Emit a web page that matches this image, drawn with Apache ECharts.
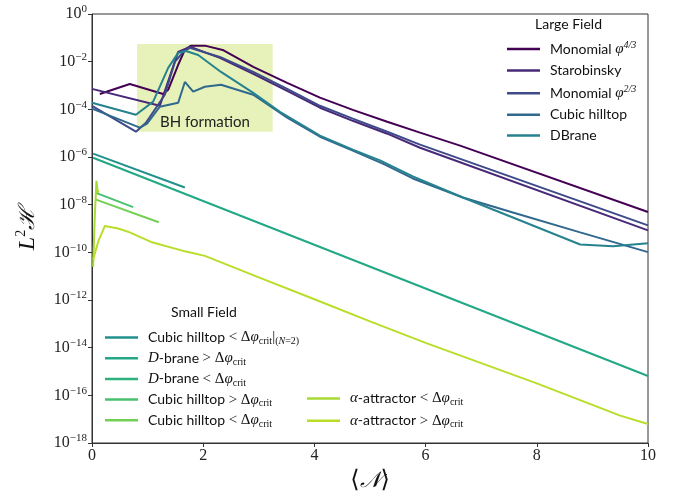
<!DOCTYPE html>
<html>
<head>
<meta charset="utf-8">
<script src="https://cdn.jsdelivr.net/npm/echarts@6/dist/echarts.min.js"></script>
<style>html,body{margin:0;padding:0;background:#fff}#c{width:695px;height:499px}</style>
</head>
<body>
<div id="c"></div>
<script>
// ---------- data ----------
const xTicks = [0, 2, 4, 6, 8, 10];
const yTickExponents = [0, -2, -4, -6, -8, -10, -12, -14, -16, -18];

// Large field
const mono43X = [0.14,0.68,1.28,1.37,1.55,1.67,1.78,2.03,2.35,2.90,3.51,4.10,4.69,5.31,5.90,6.62,10];
const mono43Y = [4.4e-4,1.15e-3,4.4e-4,6.6e-4,7.4e-3,3.1e-2,4.7e-2,4.7e-2,3.1e-2,6.0e-3,1.29e-3,3.1e-4,9.5e-5,3.0e-5,1.05e-5,3.0e-6,4.9e-9];
const staroX = [0,1.22,1.55,1.76,2.30,2.90,3.51,4.10,4.69,5.31,5.90,10];
const staroY = [7.2e-4,1.41e-4,2.57e-2,4.2e-2,1.45e-2,3.1e-3,6.0e-4,1.17e-4,3.3e-5,9.5e-6,2.45e-6,8.3e-10];
const mono23X = [0,0.79,0.97,1.31,1.49,1.64,1.76,2.30,2.90,3.51,4.10,4.69,5.31,5.90,10];
const mono23Y = [1.41e-4,1.15e-5,2.75e-5,4.1e-4,9.8e-3,2.57e-2,3.8e-2,1.58e-2,3.7e-3,7.2e-4,1.41e-4,4.1e-5,1.15e-5,3.3e-6,1.35e-9];
const cubicX = [0,0.86,0.99,1.22,1.55,1.67,1.82,2.03,2.32,2.90,3.51,4.10,4.69,5.25,5.77,6.67,7.57,8.78,10];
const cubicY = [1.07e-4,1.7e-5,2.5e-5,1.29e-4,1.9e-4,1.41e-3,5.5e-4,8.9e-4,1.07e-3,4.1e-4,4.5e-5,7.1e-6,1.86e-6,5.0e-7,1.26e-7,2.0e-8,4.7e-9,6.9e-10,1.02e-10];
const dbraneX = [0,0.79,1.10,1.37,1.55,1.69,1.91,2.32,2.90,3.38,4.10,4.69,5.18,5.77,6.67,7.57,8.78,9.37,10];
const dbraneY = [1.9e-4,5.9e-5,2.1e-4,5.5e-3,2.34e-2,2.8e-2,1.9e-2,3.7e-3,4.9e-4,7.9e-5,7.9e-6,2.04e-6,7.2e-7,1.55e-7,2.0e-8,2.9e-9,2.14e-10,1.82e-10,2.4e-10];

// Small field
const cubicN2X = [0.02,1.67];
const cubicN2Y = [1.38e-6,5.25e-8];
const dbraneGtX = [0.02,10];
const dbraneGtY = [9.3e-7,6.5e-16];
const dbraneLtX = [];
const dbraneLtY = [];
const cubicGtX = [0.06,0.74];
const cubicGtY = [3.2e-8,7.9e-9];
const cubicLtX = [0.06,1.2];
const cubicLtY = [1.66e-8,1.82e-9];
const alphaLtX = [0.02,0.05,0.08,0.10,0.12];
const alphaLtY = [2.5e-11,3.2e-9,1.0e-7,4.0e-8,3.2e-8];
const alphaGtX = [0.02,0.12,0.23,0.47,0.68,1.08,1.67,2.03,3,4,5,6,7,8,9,9.5,10];
const alphaGtY = [5.0e-11,3.2e-10,1.26e-9,1.0e-9,6.9e-10,2.63e-10,1.1e-10,7.1e-11,8.9e-12,1.07e-12,1.26e-13,1.58e-14,2.24e-15,3.16e-16,4.0e-17,1.41e-17,6.3e-18];

// BH formation region
const bhX = [0.81, 3.25];
const bhY = [1.15e-5, 0.0556];

// ---------- names / colours ----------
const largeNames = ['Monomial φ4/3','Starobinsky','Monomial φ2/3','Cubic hilltop','DBrane'];
const smallNames1 = ['Cubic hilltop < Δφcrit|(N=2)','D-brane > Δφcrit','D-brane < Δφcrit','Cubic hilltop > Δφcrit','Cubic hilltop < Δφcrit'];
const smallNames2 = ['α-attractor < Δφcrit','α-attractor > Δφcrit'];

const richLabel = {
  'Monomial φ4/3': '{t|Monomial }{mi|φ}{sup|4/3}',
  'Starobinsky': '{t|Starobinsky}',
  'Monomial φ2/3': '{t|Monomial }{mi|φ}{sup|2/3}',
  'Cubic hilltop': '{t|Cubic hilltop}',
  'DBrane': '{t|DBrane}',
  'Cubic hilltop < Δφcrit|(N=2)': '{t|Cubic hilltop }{m|< Δ}{mi|φ}{sub|crit}{m||}{sub|(}{subi|N}{sub|=2)}',
  'D-brane > Δφcrit': '{mi|D}{t|-brane }{m|> Δ}{mi|φ}{sub|crit}',
  'D-brane < Δφcrit': '{mi|D}{t|-brane }{m|< Δ}{mi|φ}{sub|crit}',
  'Cubic hilltop > Δφcrit': '{t|Cubic hilltop }{m|> Δ}{mi|φ}{sub|crit}',
  'Cubic hilltop < Δφcrit': '{t|Cubic hilltop }{m|< Δ}{mi|φ}{sub|crit}',
  'α-attractor < Δφcrit': '{mi|α}{t|-attractor }{m|< Δ}{mi|φ}{sub|crit}',
  'α-attractor > Δφcrit': '{mi|α}{t|-attractor }{m|> Δ}{mi|φ}{sub|crit}'
};

const seriesDefs = [
  ['Monomial φ4/3', mono43X, mono43Y, '#440154'],
  ['Starobinsky', staroX, staroY, '#482878'],
  ['Monomial φ2/3', mono23X, mono23Y, '#3e4a89'],
  ['Cubic hilltop', cubicX, cubicY, '#31688e'],
  ['DBrane', dbraneX, dbraneY, '#26828e'],
  ['Cubic hilltop < Δφcrit|(N=2)', cubicN2X, cubicN2Y, '#21918c'],
  ['D-brane > Δφcrit', dbraneGtX, dbraneGtY, '#22a884'],
  ['D-brane < Δφcrit', dbraneLtX, dbraneLtY, '#2db27d'],
  ['Cubic hilltop > Δφcrit', cubicGtX, cubicGtY, '#4ac16d'],
  ['Cubic hilltop < Δφcrit', cubicLtX, cubicLtY, '#73d056'],
  ['α-attractor < Δφcrit', alphaLtX, alphaLtY, '#a8db34'],
  ['α-attractor > Δφcrit', alphaGtX, alphaGtY, '#b8de29']
];

const serif = "'Liberation Serif', 'DejaVu Serif', serif";
const sans = "Lato, 'DejaVu Sans', sans-serif";
const legendRich = {
  t: {fontFamily: sans, fontSize: 14, lineHeight: 18, color: '#111'},
  m: {fontFamily: serif, fontSize: 15, lineHeight: 18, color: '#111'},
  mi: {fontFamily: serif, fontStyle: 'italic', fontSize: 15, lineHeight: 18, color: '#111'},
  sup: {fontFamily: serif, fontStyle: 'italic', fontSize: 10, lineHeight: 9, verticalAlign: 'top', color: '#111'},
  sub: {fontFamily: serif, fontSize: 10, lineHeight: 9, verticalAlign: 'bottom', color: '#111'},
  subi: {fontFamily: serif, fontStyle: 'italic', fontSize: 10, lineHeight: 9, verticalAlign: 'bottom', color: '#111'}
};

function legendCfg(names, left, top, gap) {
  return {
    data: names, orient: 'vertical', left: left, top: top, padding: 0,
    icon: 'rect', itemWidth: 33, itemHeight: 2.5, itemGap: gap,
    selectedMode: false,
    formatter: n => richLabel[n],
    textStyle: {rich: legendRich, padding: [0, 0, 0, 5]}
  };
}

const series = seriesDefs.map(([name, xs, ys, color], i) => {
  const s = {
    name: name, type: 'line', showSymbol: false, symbol: 'none',
    data: xs.map((x, k) => [x, ys[k]]),
    lineStyle: {width: 2, color: color}, itemStyle: {color: color},
    z: 3, animation: false
  };
  if (i === 0) {
    s.markArea = {
      silent: true,
      itemStyle: {color: 'rgba(190,222,70,0.38)'},
      label: {show: true, position: 'insideBottom', distance: 2, formatter: 'BH formation',
              fontFamily: sans, fontSize: 15, color: '#222'},
      data: [[{coord: [bhX[0], bhY[1]]}, {coord: [bhX[1], bhY[0]]}]]
    };
  }
  return s;
});

const chart = echarts.init(document.getElementById('c'), null, {renderer: 'canvas'});
chart.setOption({
  animation: false,
  backgroundColor: '#fff',
  grid: {left: 92, right: 47, top: 14, bottom: 56, show: true, borderColor: '#333', borderWidth: 1},
  xAxis: {
    type: 'value', min: 0, max: 10, interval: 2,
    axisLine: {show: true, lineStyle: {color: '#333'}},
    axisTick: {show: true, length: 4, lineStyle: {color: '#333'}},
    splitLine: {show: false},
    axisLabel: {fontFamily: serif, fontSize: 16, color: '#222', margin: 5,
                formatter: v => xTicks.includes(v) ? String(v) : ''},
    name: '{a|⟨}{n|𝒩}{a|⟩}', nameLocation: 'middle', nameGap: 22,
    nameTextStyle: {rich: {a: {fontFamily: serif, fontSize: 24, color: '#111'},
                           n: {fontFamily: "'DejaVu Serif', serif", fontStyle: 'italic', fontSize: 22, color: '#111'}}}
  },
  yAxis: {
    type: 'log', logBase: 10, min: 1e-18, max: 1, interval: 2,
    axisLine: {show: true, lineStyle: {color: '#333'}},
    axisTick: {show: true, length: 4, lineStyle: {color: '#333'}},
    splitLine: {show: false},
    minorTick: {show: false},
    axisLabel: {
      margin: 5,
      formatter: v => {
        const e = Math.round(Math.log10(v));
        if (!yTickExponents.includes(e)) return '';
        return '{b|10}{s|' + (e < 0 ? '−' + (-e) : e) + '}';
      },
      rich: {
        b: {fontFamily: serif, fontSize: 16, lineHeight: 20, color: '#222'},
        s: {fontFamily: serif, fontSize: 11, lineHeight: 11, verticalAlign: 'top', color: '#222'}
      }
    },
    name: '{l|L}{s|2}{h|ℋ}', nameLocation: 'middle', nameGap: 50, nameRotate: 90,
    nameTextStyle: {rich: {
      l: {fontFamily: serif, fontStyle: 'italic', fontSize: 24, lineHeight: 28, color: '#111'},
      s: {fontFamily: serif, fontSize: 14, lineHeight: 14, verticalAlign: 'top', color: '#111'},
      h: {fontFamily: "'DejaVu Serif', serif", fontStyle: 'italic', fontSize: 22, lineHeight: 28, color: '#111'}
    }}
  },
  legend: [
    legendCfg(largeNames, 507, 40, 6.9),
    legendCfg(smallNames1, 105, 330, 4.2),
    legendCfg(smallNames2, 307, 391, 5.8)
  ],
  graphic: [
    {type: 'text', left: 572 - 37, top: 17, style: {text: 'Large Field', font: "14px Lato, 'DejaVu Sans', sans-serif", fill: '#111'}},
    {type: 'text', left: 208 - 37, top: 305, style: {text: 'Small Field', font: "14px Lato, 'DejaVu Sans', sans-serif", fill: '#111'}}
  ],
  series: series
});
</script>
</body>
</html>
